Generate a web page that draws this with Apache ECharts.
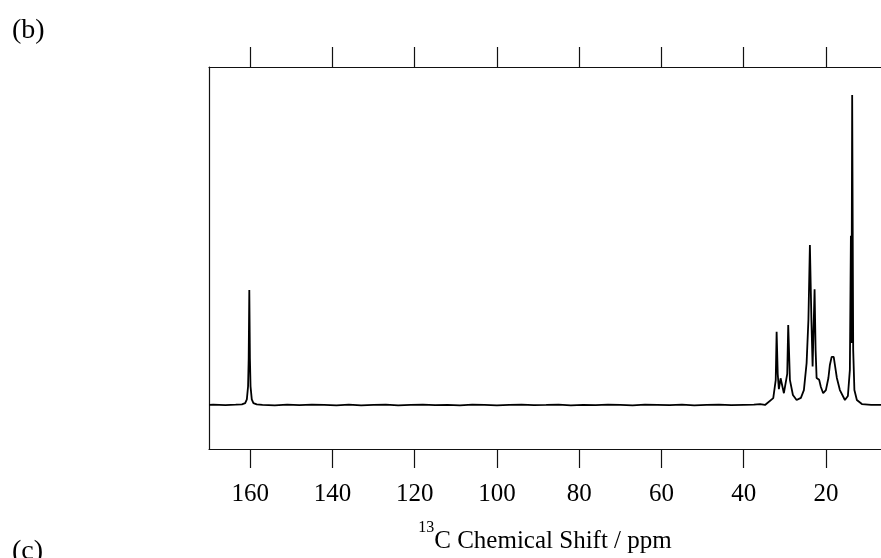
<!DOCTYPE html>
<html>
<head>
<meta charset="utf-8">
<script src="https://cdn.jsdelivr.net/npm/echarts@6/dist/echarts.min.js"></script>
<style>
  html, body { margin: 0; padding: 0; background: #fff; }
  #chart { width: 881px; height: 558px; }
</style>
</head>
<body>
<div id="chart"></div>
<script>
// 13C spectrum, values (ppm, intensity in % of tallest peak)
const shiftPpm = [
  170, 169, 166, 163.5, 162, 161.2, 160.8, 160.5, 160.35, 160.2, 160.05, 159.9, 159.6, 159.2, 158.4,
  157, 154, 151, 148, 145, 142, 139, 136, 133, 130, 127, 124, 121, 118, 115, 112, 109, 106, 103,
  100, 97, 94, 91, 88, 85, 82, 79, 76, 73, 70, 67, 64, 61, 58, 55, 52, 49, 46, 43, 40, 37.5,
  36.0, 34.8, 32.8, 32.2, 31.98, 31.71, 31.43, 31.01, 30.21, 29.4, 29.16, 28.75, 28.02, 27.12,
  26.08, 25.35, 24.69, 24.25, 23.89, 23.52, 23.23, 22.75, 22.5, 22.26, 21.63, 21.22, 20.66,
  20.0, 19.39, 19.03, 18.6, 18.37, 18.1, 17.81, 17.33, 16.6, 15.38, 14.65, 14.17, 13.92, 13.78,
  13.61, 13.36, 13.07, 12.47, 11.25, 9, 6.6
];
const intensity = [
  0, 0.1, -0.05, 0.1, 0.2, 0.6, 1.8, 6, 15, 37.1, 15, 6, 1.8, 0.6, 0.2,
  0.05, -0.1, 0.1, -0.05, 0.1, 0, -0.1, 0.1, -0.1, 0.05, 0.1, -0.1, 0, 0.1, -0.05, 0.05, -0.1, 0.1, 0,
  -0.1, 0.05, 0.1, -0.05, 0, 0.1, -0.1, 0.05, -0.05, 0.1, 0, -0.1, 0.1, 0.05, -0.05, 0.1, -0.1, 0, 0.1, -0.05, 0.05, 0.1,
  0.3, 0, 2.2, 8, 23.6, 10, 5.1, 8.6, 3.8, 10, 25.8, 8.1, 3.2, 1.6,
  2.3, 4.8, 13.5, 27.4, 51.6, 27.4, 12.4, 37.3, 17.7, 8.7, 8.1, 5.8, 3.8,
  4.8, 8.7, 12.9, 15.5, 16.1, 15.5, 12.9, 8.7, 4.8, 1.6, 2.9, 11.3, 54.6, 20,
  100, 17.7, 4.8, 1.6, 0.3, 0.05, 0
];
const tickValues = [160, 140, 120, 100, 80, 60, 40, 20];

const chart = echarts.init(document.getElementById('chart'));
const serif = '"Liberation Serif", "DejaVu Serif", serif';
const frame = { show: true, onZero: false, lineStyle: { color: '#111', width: 1.2 } };

const option = {
  animation: false,
  backgroundColor: '#fff',
  grid: { left: 209, top: 67, right: 0, bottom: 109, outerBoundsMode: 'none' },
  xAxis: [
    {
      type: 'value', position: 'bottom', inverse: true,
      min: 6.6, max: 170,
      axisLine: frame,
      axisTick: { show: true, inside: false, length: 19, customValues: tickValues,
        lineStyle: { color: '#111', width: 1.2 } },
      axisLabel: { show: true, customValues: tickValues, margin: 33,
        fontFamily: serif, fontSize: 25, color: '#000' },
      splitLine: { show: false },
      name: '{s|13}{m|C Chemical Shift / ppm}',
      nameLocation: 'middle', nameGap: 71,
      nameTextStyle: {
        rich: {
          s: { fontFamily: serif, fontSize: 16, lineHeight: 16, color: '#000', verticalAlign: 'top' },
          m: { fontFamily: serif, fontSize: 25, lineHeight: 34, color: '#000', verticalAlign: 'bottom' }
        }
      }
    },
    {
      type: 'value', position: 'top', inverse: true,
      min: 6.6, max: 170,
      axisLine: frame,
      axisTick: { show: true, inside: false, length: 20, customValues: tickValues,
        lineStyle: { color: '#111', width: 1.2 } },
      axisLabel: { show: false },
      splitLine: { show: false }
    }
  ],
  yAxis: {
    type: 'value', min: -14.2, max: 109,
    axisLine: frame,
    axisTick: { show: false },
    axisLabel: { show: false },
    splitLine: { show: false }
  },
  graphic: [
    { type: 'text', left: 12, top: 17, style: { text: '(b)', font: '28px ' + serif, fill: '#000' } },
    { type: 'text', left: 12, top: 538, style: { text: '(c)', font: '28px ' + serif, fill: '#000' } }
  ],
  series: [{
    type: 'line',
    xAxisIndex: 0,
    showSymbol: false,
    lineStyle: { color: '#000', width: 1.8 },
    data: shiftPpm.map((s, i) => [s, intensity[i]])
  }]
};
chart.setOption(option);
</script>
</body>
</html>
